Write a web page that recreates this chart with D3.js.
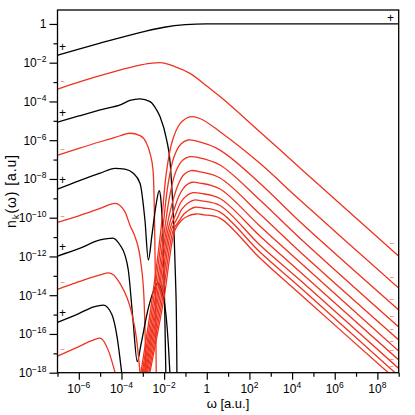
<!DOCTYPE html>
<html><head><meta charset="utf-8">
<script src="https://cdn.jsdelivr.net/npm/d3@7"></script>
<style>
body{margin:0;background:#fff}
svg{display:block}
text{font-family:"Liberation Sans",Arial,Helvetica,sans-serif}
</style>
</head><body>
<svg id="chart" width="415" height="415"></svg>
<script>
// ---- data: [log10 ω, log10 n_k(ω)] ----
const curve0 = [[-7,-1.62],[-6,-1.30],[-5,-0.99],[-4,-0.69],[-3,-0.41],[-2,-0.17],[-1,-0.04],[0,0],[1,0],[9,0]];
const curve1 = [[-7,-3.36],[-6,-3.0],[-5,-2.67],[-4,-2.36],[-3.3,-2.16],[-2.66,-2.03],[-2.19,-2.0],[-1.5,-2.2],[-0.79,-2.55],[0,-3.2],[0.62,-3.75],[2.5,-5.58],[4.37,-7.43],[9,-11.98]];
const curve2 = [[-7,-5.07],[-6,-4.75],[-5,-4.44],[-4,-4.15],[-3.6,-3.95],[-3.13,-3.87],[-2.66,-4.01],[-2.35,-4.44],[-2.19,-4.79],[-1.88,-5.99],[-1.73,-7.02],[-1.63,-8.6],[-1.54,-10.6],[-1.47,-13],[-1.42,-15.5],[-1.40,-18]];
const curve3 = [[-7,-6.78],[-6,-6.42],[-5,-6.08],[-4.3,-5.86],[-3.6,-5.64],[-3.13,-5.76],[-2.85,-6.1],[-2.66,-6.68],[-2.52,-7.54],[-2.45,-10.1],[-2.41,-13.2],[-2.37,-18]];
const curve4 = [[-7,-8.53],[-6,-8.1],[-5,-7.7],[-4.3,-7.45],[-3.84,-7.49],[-3.46,-7.69],[-3.13,-8.22],[-2.9,-10.12],[-2.74,-12.18],[-2.57,-10.89],[-2.38,-9.34],[-2.23,-8.61],[-2.15,-9.09],[-2.05,-11.15],[-1.98,-14.25],[-1.92,-18]];
const curve5 = [[-7,-10.24],[-6,-9.9],[-5,-9.52],[-4.3,-9.26],[-3.84,-9.69],[-3.6,-10.4],[-3.38,-10.94],[-3.09,-12.34],[-2.94,-14.25],[-2.85,-18]];
const curve6 = [[-7,-11.98],[-6,-11.6],[-5,-11.15],[-4.4,-11.05],[-4.07,-11.41],[-3.84,-11.92],[-3.68,-12.7],[-3.46,-15.28],[-3.26,-17.43],[-3.09,-16.57],[-2.76,-14.76],[-2.48,-13.73],[-2.29,-13.37],[-2.10,-13.83],[-1.91,-15.02],[-1.80,-16.57],[-1.73,-18]];
const curve7 = [[-7,-13.7],[-6,-13.3],[-5,-12.95],[-4.6,-12.85],[-4.07,-13.39],[-3.52,-14.93],[-3.3,-16.2],[-3.13,-18]];
const curve8 = [[-7,-15.4],[-6,-14.95],[-5.3,-14.6],[-4.85,-14.51],[-4.45,-15.0],[-4.2,-16.2],[-3.99,-18]];
const curve9 = [[-7,-17.14],[-6,-16.65],[-5.3,-16.3],[-5.01,-16.22],[-4.6,-16.9],[-4.3,-18]];
// negative-valued branches re-emerging after the zero crossings
const tail0 = [[-3.09,-18],[-2.57,-14.25],[-2.15,-10.63],[-1.91,-7.80],[-1.63,-6.09],[-1.26,-5.16],[-0.79,-4.80],[-0.32,-4.88],[0.62,-5.56],[2.49,-7.19],[4.37,-9.09],[9,-13.63]];
const tail1 = [[-3.03,-18],[-2.50,-14.25],[-2.07,-10.63],[-1.82,-8.31],[-1.54,-6.87],[-1.21,-6.20],[-0.88,-5.99],[-0.51,-6.04],[0.62,-6.51],[2.49,-8.22],[4.37,-10.21],[9,-14.76]];
const tail2 = [[-2.98,-18],[-2.43,-14.25],[-1.98,-10.63],[-1.73,-8.83],[-1.44,-7.59],[-1.12,-7.02],[-0.79,-6.85],[-0.41,-6.89],[0.62,-7.28],[2.49,-9.09],[4.37,-11.06],[9,-15.64]];
const tail3 = [[-2.93,-18],[-2.36,-14.25],[-1.90,-10.63],[-1.63,-9.29],[-1.35,-8.31],[-1.07,-7.77],[-0.74,-7.57],[-0.37,-7.62],[0.62,-7.95],[2.49,-9.81],[4.37,-11.76],[9,-16.31]];
const tail4 = [[-2.88,-18],[-2.30,-14.25],[-1.82,-10.63],[-1.54,-9.60],[-1.26,-8.78],[-0.98,-8.34],[-0.69,-8.17],[-0.32,-8.21],[0.62,-8.52],[2.49,-10.43],[4.37,-12.30],[9,-16.88]];
const tail5 = [[-2.83,-18],[-2.23,-14.25],[-1.74,-10.63],[-1.47,-9.86],[-1.21,-9.19],[-0.93,-8.85],[-0.65,-8.71],[-0.27,-8.75],[0.62,-9.01],[2.49,-10.94],[4.37,-12.79],[9,-17.34]];
const tail6 = [[-2.78,-18],[-2.16,-14.25],[-1.66,-10.63],[-1.40,-10.07],[-1.16,-9.55],[-0.88,-9.24],[-0.60,-9.09],[-0.23,-9.13],[0.62,-9.37],[2.49,-11.41],[4.37,-13.22],[9,-17.78]];
const tail7 = [[-2.72,-18],[-2.09,-14.25],[-1.57,-10.63],[-1.33,-10.22],[-1.07,-9.81],[-0.83,-9.60],[-0.55,-9.46],[-0.18,-9.50],[0.62,-9.71],[2.49,-11.77],[4.37,-13.59],[9,-18.17]];
const tail8 = [[-2.67,-18],[-2.02,-14.25],[-1.49,-10.63],[-1.21,-10.17],[-0.93,-9.94],[-0.51,-9.81],[-0.13,-9.85],[0.62,-10.02],[2.49,-12.08],[4.37,-13.94],[9,-18.48]];

// sign labels: [log10 ω, log10 n]
const plusLabels = [[-6.76,-1.17],[-6.76,-4.58],[-6.76,-8.05],[-6.76,-11.50],[-6.76,-14.93],[8.62,0.29]];
const minusLabels = [[-6.76,-2.94],[-6.76,-6.45],[-6.76,-9.90],[-6.76,-13.33],[-6.76,-16.79],
  [8.68,-11.32],[8.68,-13.08],[8.68,-14.21],[8.68,-15.07],[8.68,-15.76],[8.68,-16.35],[8.68,-16.83],[8.68,-17.29],[8.68,-17.65]];

// ticks (exponents)
const xMajor = [-6,-4,-2,0,2,4,6,8];
const xMinor = [-7,-5,-3,-1,1,3,5,7,9];
const yMajor = [0,-2,-4,-6,-8,-10,-12,-14,-16,-18];
const yMinor = [-1,-3,-5,-7,-9,-11,-13,-15,-17];

const BLACK = "#000", RED = "#f0321e";
const series = [
  {d:curve0,c:BLACK,s:0},{d:curve1,c:RED,s:0},{d:curve2,c:BLACK,s:0},{d:curve3,c:RED,s:0},{d:curve4,c:BLACK,s:0},
  {d:curve5,c:RED,s:0},{d:curve6,c:BLACK,s:0},{d:curve7,c:RED,s:0},{d:curve8,c:BLACK,s:0},{d:curve9,c:RED,s:0},
  {d:tail0,c:RED,s:1},{d:tail1,c:RED,s:1},{d:tail2,c:RED,s:1},{d:tail3,c:RED,s:1},{d:tail4,c:RED,s:1},
  {d:tail5,c:RED,s:1},{d:tail6,c:RED,s:1},{d:tail7,c:RED,s:1},{d:tail8,c:RED,s:1}
];

// ---- drawing ----
const L=57.5, R=398.7, T=10, B=372.7;
const svg = d3.select("#chart");
const x = d3.scaleLog().domain([1e-7,1e9]).range([L,R]);
const y = d3.scaleLog().domain([1e-18,Math.pow(10,0.72)]).range([B,T]);
const p10 = e => Math.pow(10,e);

svg.append("defs").append("clipPath").attr("id","clip")
  .append("rect").attr("x",L).attr("y",T).attr("width",R-L).attr("height",B-T);

const lineMono = d3.line().x(d=>x(p10(d[0]))).y(d=>y(p10(d[1]))).curve(d3.curveMonotoneX);
const lineSmooth = d3.line().x(d=>x(p10(d[0]))).y(d=>y(p10(d[1]))).curve(d3.curveCatmullRom.alpha(0.5));
const gl = svg.append("g").attr("clip-path","url(#clip)");
series.forEach(s=>{
  gl.append("path").attr("d",(s.s?lineSmooth:lineMono)(s.d)).attr("fill","none")
    .attr("stroke",s.c).attr("stroke-width",1.3).attr("stroke-linejoin","round");
});

// axes
function styleAxis(g){ g.select(".domain").remove(); g.selectAll("line").attr("stroke","#000").attr("stroke-width",1.2); }
svg.append("g").attr("transform",`translate(0,${B})`)
  .call(d3.axisBottom(x).tickValues(xMajor.map(p10)).tickSize(7).tickFormat(()=>"")).call(styleAxis);
svg.append("g").attr("transform",`translate(0,${B})`)
  .call(d3.axisBottom(x).tickValues(xMinor.map(p10)).tickSize(4).tickFormat(()=>"")).call(styleAxis);
svg.append("g").attr("transform",`translate(${L},0)`)
  .call(d3.axisLeft(y).tickValues(yMajor.map(p10)).tickSize(8).tickFormat(()=>"")).call(styleAxis);
svg.append("g").attr("transform",`translate(${L},0)`)
  .call(d3.axisLeft(y).tickValues(yMinor.map(p10)).tickSize(4).tickFormat(()=>"")).call(styleAxis);

function powLabel(sel, e){
  if(e===0){ sel.text("1"); return; }
  sel.append("tspan").text("10");
  sel.append("tspan").attr("font-size","8.5px").attr("dy","-5").text((e<0?"\u2212":"")+Math.abs(e));
}
xMajor.forEach(e=>{
  const t = svg.append("text").attr("x",x(p10(e))).attr("y",B+20)
    .attr("text-anchor","middle").attr("font-size","12px").attr("fill","#000");
  powLabel(t,e);
});
yMajor.forEach(e=>{
  const t = svg.append("text").attr("x",L-11).attr("y",y(p10(e))+4.5)
    .attr("text-anchor","end").attr("font-size","12px").attr("fill","#000");
  powLabel(t,e);
});

// frame
svg.append("rect").attr("x",L).attr("y",T).attr("width",R-L).attr("height",B-T)
  .attr("fill","none").attr("stroke","#000").attr("stroke-width",1.3);

// axis titles
svg.append("text").attr("x",228).attr("y",408).attr("text-anchor","middle")
  .attr("font-size","13px").text("\u03c9 [a.u.]");
const yt = svg.append("text").attr("transform","translate(16,191) rotate(-90)")
  .attr("text-anchor","middle").attr("font-size","14px").attr("letter-spacing","0.9px");
yt.append("tspan").text("n");
yt.append("tspan").attr("font-size","9.5px").attr("dy","2.5").text("k");
yt.append("tspan").attr("dy","-2.5").text("(\u03c9) [a.u]");

// sign labels
plusLabels.forEach(p=>{
  svg.append("text").attr("x",x(p10(p[0]))).attr("y",y(p10(p[1]))+4)
    .attr("text-anchor","middle").attr("font-size","12px").attr("fill","#000").text("+");
});
minusLabels.forEach(p=>{
  svg.append("text").attr("x",x(p10(p[0]))).attr("y",y(p10(p[1]))+2)
    .attr("text-anchor","middle").attr("font-size","6.5px").attr("fill",RED).text("\u2013");
});
</script>
</body></html>
